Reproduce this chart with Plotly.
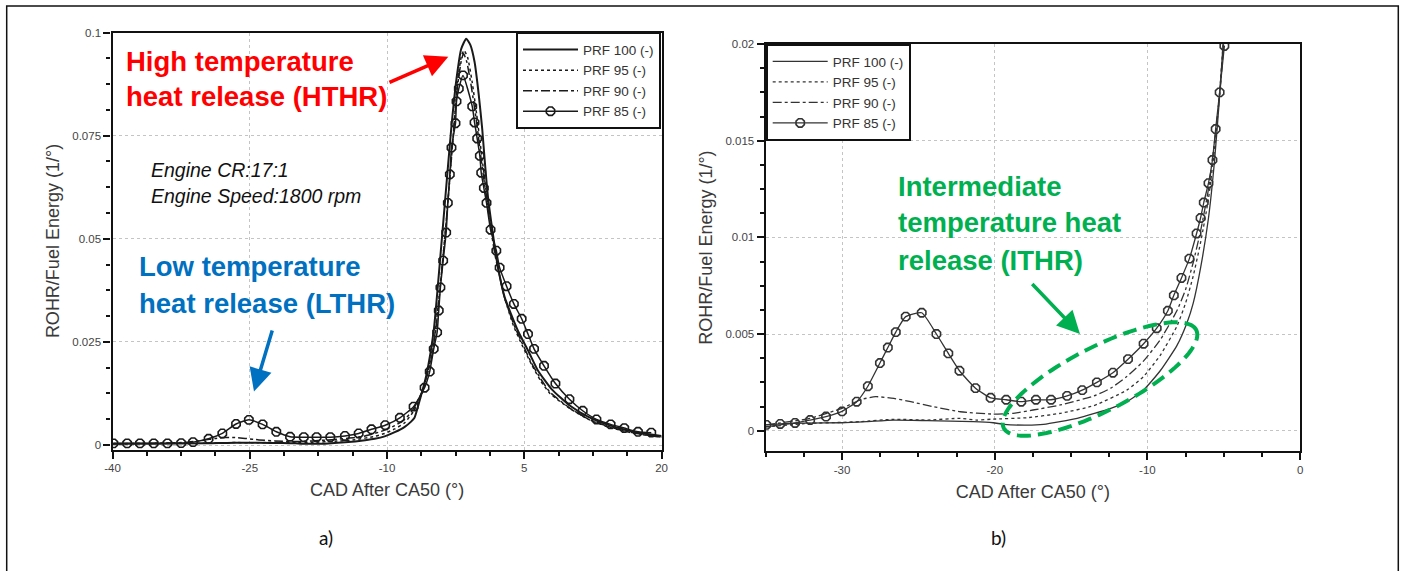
import numpy as np
import plotly.graph_objects as go

# ---------------- data ----------------
series_names = ["PRF 100 (-)", "PRF 95 (-)", "PRF 90 (-)", "PRF 85 (-)"]

# panel a) full view
a_x_prf100 = [-40, -35, -30, -28.4, -26.6, -24, -21.4, -20, -19.4, -17.9, -16.8, -14.6, -12.4, -11.35, -10.26,
              -9.16, -8.07, -7.4, -7.0, -6.36, -5.7, -4.9, -4.24, -3.62, -2.99, -2.41, -1.9, -1.35, -0.9, -0.44,
              0.03, 0.4, 0.69, 1.02, 1.5, 2.05, 2.84, 4.3, 5.5, 6.5, 8, 10, 12, 14, 16, 18, 20]
a_y_prf100 = [0.0003, 0.0003, 0.0004, 0.00047, 0.00055, 0.00052, 0.00047, 0.00041, 0.00033, 0.00029, 0.00033,
              0.00064, 0.00116, 0.0015, 0.0021, 0.0031, 0.0044, 0.0056, 0.0066, 0.0114, 0.017, 0.0277, 0.044,
              0.0603, 0.0766, 0.0888, 0.096, 0.0985, 0.097, 0.0929, 0.0847, 0.0766, 0.0685, 0.0603, 0.0522,
              0.044, 0.0359, 0.0277, 0.0225, 0.018, 0.0135, 0.0095, 0.0068, 0.005, 0.0037, 0.0028, 0.0022]

a_x_prf95 = [-40, -35, -30, -27, -24, -22, -20, -18, -15.7, -13.5, -11.35, -10.26, -9.16, -8.07, -7.1, -6.2,
             -5.2, -4.7, -4.2, -3.7, -3.2, -2.7, -2.3, -1.9, -1.6, -1.2, -0.7, -0.2, 0.3, 0.8, 1.3, 1.8, 2.3,
             2.8, 3.8, 4.8, 5.8, 6.8, 7.8, 10, 12, 14, 16, 18, 20]
a_y_prf95 = [0.0003, 0.0004, 0.00043, 0.00058, 0.00055, 0.00064, 0.0006, 0.00067, 0.0009, 0.0013, 0.0021,
             0.0028, 0.0039, 0.0054, 0.0082, 0.0125, 0.021, 0.028, 0.0385, 0.05, 0.063, 0.077, 0.088, 0.094,
             0.0957, 0.094, 0.088, 0.08, 0.071, 0.062, 0.054, 0.047, 0.041, 0.036, 0.029, 0.024, 0.0195,
             0.0155, 0.0125, 0.0088, 0.0062, 0.0045, 0.0033, 0.0025, 0.0019]

a_x_prf90 = [-40, -35, -32, -30, -28.8, -27.8, -26.6, -25.5, -24, -22.25, -20, -18.8, -17.5, -15.7, -13.5,
             -12.4, -11.35, -10.26, -9.16, -8.07, -7.1, -6.2, -5.2, -4.7, -4.2, -3.7, -3.2, -2.7, -2.3, -1.9,
             -1.65, -1.3, -0.8, -0.2, 0.3, 0.8, 1.3, 1.8, 2.3, 2.8, 3.8, 4.8, 5.8, 6.8, 7.8, 10, 12, 14, 16,
             18, 20]
a_y_prf90 = [0.0003, 0.0004, 0.00064, 0.00116, 0.0016, 0.0018, 0.0018, 0.0016, 0.00124, 0.001, 0.00086,
             0.0009, 0.00107, 0.00133, 0.0018, 0.0022, 0.0028, 0.0036, 0.0047, 0.0062, 0.0088, 0.0128, 0.0205,
             0.0275, 0.038, 0.05, 0.063, 0.077, 0.087, 0.093, 0.0949, 0.093, 0.087, 0.078, 0.069, 0.061,
             0.053, 0.046, 0.041, 0.036, 0.0295, 0.0245, 0.0198, 0.016, 0.0128, 0.0089, 0.0063, 0.0046,
             0.0034, 0.0025, 0.0019]

a_x_prf85 = [-39.9, -38.4, -37.0, -35.5, -34.0, -32.5, -31.2, -29.5, -28.0, -26.5, -25.1, -23.6, -22.1, -20.6,
             -19.1, -17.7, -16.2, -14.6, -13.1, -11.7, -10.2, -8.6, -7.1, -5.9, -5.34, -4.9, -4.53, -4.35,
             -4.17, -3.87, -3.54, -3.36, -3.14, -2.96, -2.52, -2.41, -2.16, -1.7, -0.69, -0.44, -0.15, 0.14,
             0.29, 0.58, 0.87, 1.31, 1.94, 2.3, 3.06, 3.86, 4.71, 5.4, 6.06, 7.15, 8.4, 9.93, 11.38, 12.88,
             14.43, 15.92, 17.42, 18.87]
a_y_prf85 = [0.0004, 0.0004, 0.0004, 0.0004, 0.0004, 0.00045, 0.0007, 0.0015, 0.0028, 0.0051, 0.0061, 0.005,
             0.0032, 0.002, 0.0019, 0.0019, 0.0019, 0.0022, 0.0028, 0.0038, 0.0048, 0.0066, 0.0093, 0.0139,
             0.0178, 0.0233, 0.0273, 0.0326, 0.0382, 0.0447, 0.0515, 0.0587, 0.0656, 0.0721, 0.078, 0.0833,
             0.0864, 0.0896, 0.0821, 0.0782, 0.0743, 0.0701, 0.066, 0.0623, 0.0587, 0.0522, 0.0471, 0.043,
             0.0385, 0.0342, 0.0306, 0.0269, 0.0233, 0.0192, 0.0149, 0.0111, 0.0083, 0.0062, 0.005, 0.0041,
             0.0032, 0.003]

# panel b) zoomed view
b_x_prf100 = [-35.0, -33.2, -30.0, -28.4, -26.6, -24.4, -21.4, -20.1, -19.4, -17.9, -16.8, -14.6, -12.4,
              -11.35, -10.26, -9.16, -8.07, -7.4, -7.0, -6.5, -6.0, -5.6, -5.3, -5.0]
b_y_prf100 = [0.0002, 0.00038, 0.00041, 0.00047, 0.00055, 0.00052, 0.00047, 0.00041, 0.00033, 0.00029,
              0.00033, 0.00064, 0.00116, 0.0015, 0.0021, 0.0031, 0.0044, 0.0056, 0.0066, 0.0085, 0.011, 0.014,
              0.017, 0.0205]

b_x_prf95 = [-35.0, -32.1, -30.0, -28.8, -26.6, -24.4, -22.25, -21.2, -20.1, -17.9, -15.7, -13.5, -11.35,
             -10.26, -9.16, -8.07, -7.5, -7.0, -6.5, -6.0, -5.6, -5.3, -5.0]
b_y_prf95 = [0.0002, 0.00038, 0.00043, 0.00047, 0.00059, 0.00055, 0.00064, 0.00055, 0.0006, 0.00067, 0.0009,
             0.0013, 0.0021, 0.0028, 0.0039, 0.0054, 0.0066, 0.008, 0.0098, 0.012, 0.0146, 0.0172, 0.0205]

b_x_prf90 = [-35.0, -32.1, -30.0, -28.8, -27.8, -26.6, -25.5, -24.0, -22.25, -20.1, -18.8, -17.5, -15.7,
             -13.5, -12.4, -11.35, -10.26, -9.16, -8.07, -7.5, -7.0, -6.5, -6.0, -5.6, -5.25, -4.95]
b_y_prf90 = [0.0003, 0.00064, 0.00116, 0.0016, 0.00176, 0.00167, 0.0015, 0.00124, 0.00098, 0.00086, 0.0009,
             0.00107, 0.00133, 0.0018, 0.0022, 0.0028, 0.0036, 0.0047, 0.0062, 0.0073, 0.0087, 0.0104, 0.0125,
             0.015, 0.0175, 0.0205]

b_x_prf85 = [-34.96, -34.05, -33.08, -32.09, -31.05, -30.0, -29.04, -28.31, -27.52, -27.0, -26.48, -25.83,
             -24.78, -23.82, -23.04, -22.31, -21.26, -20.27, -19.25, -18.26, -17.3, -16.31, -15.26, -14.27,
             -13.31, -12.26, -11.27, -10.25, -9.39, -8.66, -8.27, -7.77, -7.25, -6.78, -6.52, -6.31, -6.0,
             -5.74, -5.53, -5.27, -4.96]
b_y_prf85 = [0.0003, 0.00035, 0.0004, 0.00055, 0.00073, 0.001, 0.0015, 0.0023, 0.0035, 0.0043, 0.0051, 0.0059,
             0.0061, 0.005, 0.004, 0.0031, 0.0022, 0.0017, 0.0016, 0.0015, 0.0016, 0.0016, 0.0018, 0.0021,
             0.0025, 0.003, 0.0037, 0.0045, 0.0053, 0.0062, 0.007, 0.0079, 0.0089, 0.0102, 0.011, 0.0118,
             0.0128, 0.014, 0.0156, 0.0175, 0.0199]

# ticks
a_xtick_vals = [-40, -25, -10, 5, 20]
a_xtick_text = ["-40", "-25", "-10", "5", "20"]
a_ytick_vals = [0, 0.025, 0.05, 0.075, 0.1]
a_ytick_text = ["0", "0.025", "0.05", "0.075", "0.1"]
b_xtick_vals = [-30, -20, -10, 0]
b_xtick_text = ["-30", "-20", "-10", "0"]
b_ytick_vals = [0, 0.005, 0.01, 0.015, 0.02]
b_ytick_text = ["0", "0.005", "0.01", "0.015", "0.02"]

# ---------------- figure ----------------
W, H = 1402, 571
def px(x):
    return x / W
def py(y):
    return 1 - y / H

FONT = "Liberation Sans, Arial, sans-serif"
fig = go.Figure()

dashes = ["solid", "dot", "dashdot", "solid"]

def add_panel(xs, ys, xaxis, yaxis, legend, widths, color):
    for i, (x, y) in enumerate(zip(xs, ys)):
        is_marked = i == 3
        fig.add_trace(go.Scatter(
            x=x, y=y, name=series_names[i], xaxis=xaxis, yaxis=yaxis, legend=legend,
            mode="lines+markers" if is_marked else "lines",
            line=dict(color=color, width=widths[i], dash=dashes[i], shape="spline", smoothing=0.5),
            marker=dict(symbol="octagon-open", size=9, color=color, line=dict(width=1.6, color=color)),
        ))

add_panel([a_x_prf100, a_x_prf95, a_x_prf90, a_x_prf85],
          [a_y_prf100, a_y_prf95, a_y_prf90, a_y_prf85],
          "x", "y", "legend", [2.0, 1.5, 1.5, 1.5], "#1a1a1a")
add_panel([b_x_prf100, b_x_prf95, b_x_prf90, b_x_prf85],
          [b_y_prf100, b_y_prf95, b_y_prf90, b_y_prf85],
          "x2", "y2", "legend2", [1.3, 1.3, 1.3, 1.3], "#333333")

axis_common = dict(
    showline=True, linewidth=2.3, linecolor="#111111", mirror=True,
    ticks="outside", ticklen=7, tickwidth=2, tickcolor="#111111",
    showgrid=True, gridcolor="#c4c4c4", griddash="dot", gridwidth=1,
    zeroline=False, tickfont=dict(family=FONT, size=11.5, color="#444444"),
    tickmode="array", automargin=False,
)
title_font = dict(family=FONT, size=18, color="#3a3a3a")

fig.update_layout(
    width=W, height=H, autosize=False,
    margin=dict(l=0, r=0, t=0, b=0, pad=0, autoexpand=False),
    paper_bgcolor="white", plot_bgcolor="white",
    xaxis=dict(axis_common, domain=[px(112.5), px(661.6)], range=[-40, 20],
               tickvals=a_xtick_vals, ticktext=a_xtick_text, anchor="y",
               minor=dict(tickmode="linear", tick0=-40, dtick=3.75, ticklen=4, tickwidth=2,
                          ticks="outside", tickcolor="#111111", showgrid=False),
               title=dict(text="CAD After CA50 (°)", font=title_font, standoff=10)),
    yaxis=dict(axis_common, domain=[py(449.5), py(32.5)], range=[-0.00109, 0.1],
               tickvals=a_ytick_vals, ticktext=a_ytick_text, anchor="x",
               minor=dict(tickmode="linear", tick0=0, dtick=0.00625, ticklen=4, tickwidth=2,
                          ticks="outside", tickcolor="#111111", showgrid=False),
               title=dict(text="ROHR/Fuel Energy (1/°)", font=title_font, standoff=8)),
    xaxis2=dict(axis_common, domain=[px(765.7), px(1300.1)], range=[-35, 0],
                tickvals=b_xtick_vals, ticktext=b_xtick_text, anchor="y2",
                minor=dict(tickmode="linear", tick0=-35, dtick=2.5, ticklen=4, tickwidth=2,
                           ticks="outside", tickcolor="#111111", showgrid=False),
                title=dict(text="CAD After CA50 (°)", font=title_font, standoff=10)),
    yaxis2=dict(axis_common, domain=[py(451), py(44)], range=[-0.00105, 0.02],
                tickvals=b_ytick_vals, ticktext=b_ytick_text, anchor="x2",
                minor=dict(tickmode="linear", tick0=0, dtick=0.00125, ticklen=4, tickwidth=2,
                           ticks="outside", tickcolor="#111111", showgrid=False),
                title=dict(text="ROHR/Fuel Energy (1/°)", font=title_font, standoff=8)),
    legend=dict(x=px(516), y=py(32.3), xanchor="left", yanchor="top", bgcolor="white",
                bordercolor="#111111", borderwidth=2, itemwidth=55, tracegroupgap=0,
                font=dict(family=FONT, size=13.5, color="#333333")),
    legend2=dict(x=px(765.7), y=py(44), xanchor="left", yanchor="top", bgcolor="white",
                 bordercolor="#111111", borderwidth=2, itemwidth=55, tracegroupgap=0,
                 font=dict(family=FONT, size=13.5, color="#333333")),
    showlegend=True,
)

# ---------------- text annotations ----------------
RED, BLUE, GREEN = "#ff0000", "#0070c0", "#00b050"
BIG = 27.5
labels = [
    ("High temperature", 124, 61.8, RED, BIG, "bold", "normal"),
    ("heat release (HTHR)", 124, 96.1, RED, BIG, "bold", "normal"),
    ("Low temperature", 137, 266.9, BLUE, BIG, "bold", "normal"),
    ("heat release (LTHR)", 137, 303.5, BLUE, BIG, "bold", "normal"),
    ("Intermediate", 896, 186.1, GREEN, BIG, "bold", "normal"),
    ("temperature heat", 896, 222.8, GREEN, BIG, "bold", "normal"),
    ("release (ITHR)", 896, 260.1, GREEN, BIG, "bold", "normal"),
    ("Engine CR:17:1", 149.3, 170, "#111111", 19.5, "normal", "italic"),
    ("Engine Speed:1800 rpm", 149.3, 196, "#111111", 19.5, "normal", "italic"),
]
for text, x, y, col, size, weight, style in labels:
    fig.add_annotation(text=text, x=px(x), y=py(y), xref="paper", yref="paper",
                       xanchor="left", yanchor="middle", showarrow=False,
                       font=dict(family=FONT, size=size, color=col, weight=weight, style=style))

for text, x in [("a)", 325.5), ("b)", 998)]:
    fig.add_annotation(text=text, x=px(x), y=py(537), xref="paper", yref="paper",
                       xanchor="center", yanchor="middle", showarrow=False,
                       font=dict(family="Lato, Open Sans, sans-serif", size=19, color="#111111"))

# arrows (tail -> head, pixel positions)
arrows = [((388, 83), (448.3, 56.7), RED), ((272.7, 329), (254, 391.4), BLUE),
          ((1030.8, 282.5), (1080, 334), GREEN)]
for (tx, ty), (hx, hy), col in arrows:
    fig.add_annotation(text="", x=px(hx), y=py(hy), xref="paper", yref="paper",
                       ax=tx - hx, ay=ty - hy, axref="pixel", ayref="pixel", showarrow=True,
                       arrowhead=2, arrowsize=1.3, arrowwidth=3.5, arrowcolor=col, standoff=0)

# green dashed ellipse around the ITHR region
cx, cy, ra, rb, ang = 1100, 379, 108, 32, np.deg2rad(27)
t = np.linspace(0, 2 * np.pi, 121)
ex = cx + ra * np.cos(ang) * np.cos(t) - rb * np.sin(ang) * np.sin(t)
ey = cy - (ra * np.sin(ang) * np.cos(t) + rb * np.cos(ang) * np.sin(t))
path = "M " + " L ".join(f"{px(a):.5f},{py(b):.5f}" for a, b in zip(ex, ey)) + " Z"
fig.add_shape(type="path", path=path, xref="paper", yref="paper",
              line=dict(color=GREEN, width=4, dash="14px,7px"))

# outer frame
fig.add_shape(type="rect", xref="paper", yref="paper", x0=px(6.7), x1=px(1398.3), y0=py(575), y1=py(6),
              line=dict(color="#111111", width=1.5))

post = (
    "document.documentElement.style.margin='0';"
    "document.body.style.margin='0';"
    "document.documentElement.style.overflow='hidden';"
    "document.body.style.overflow='hidden';"
)
fig.write_html("out.html", config={"displayModeBar": False}, post_script=post)
